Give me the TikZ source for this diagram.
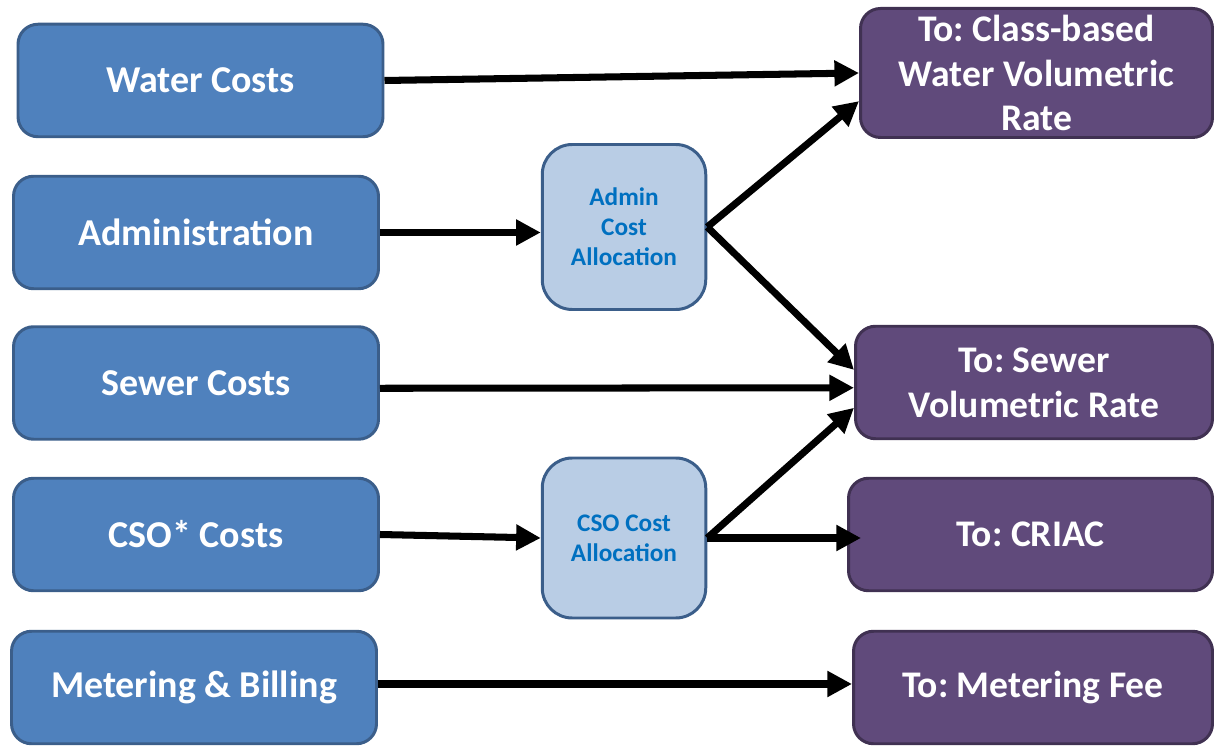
\documentclass[tikz,border=0pt]{standalone}
\usepackage{fontspec}
\setmainfont{Carlito}
\usetikzlibrary{arrows.meta}
\frenchspacing

\definecolor{costfill}{HTML}{4F81BD}
\definecolor{costline}{HTML}{3B5E8A}
\definecolor{allocfill}{HTML}{B9CDE5}
\definecolor{alloctext}{HTML}{0070C0}
\definecolor{ratefill}{HTML}{604A7B}
\definecolor{rateline}{HTML}{403152}

\begin{document}
\begin{tikzpicture}[
  cost/.style={draw=costline,fill=costfill,line width=1.7pt,rounded corners=0.4cm,
    minimum width=7.3cm,minimum height=2.25cm,text=white,align=center,
    font=\bfseries\fontsize{21.6}{25}\selectfont},
  alloc/.style={draw=costline,fill=allocfill,line width=1.7pt,rounded corners=0.6cm,
    minimum width=3.27cm,text=alloctext,align=center,
    font=\bfseries\fontsize{14.4}{17}\selectfont},
  rate/.style={draw=rateline,fill=ratefill,line width=1.7pt,rounded corners=0.4cm,
    minimum height=2.25cm,text=white,align=center,
    font=\bfseries\fontsize{21.4}{25.5}\selectfont},
  flow/.style={-{Triangle[length=14pt,width=14pt]},line width=4pt}
]
  \useasboundingbox (0,0) rectangle (24.28,14.92);

  \node (water) at (4.01,13.31) [cost]{Water Costs};
  \node (admin) at (3.92,10.27) [cost]{Administration};
  \node (sewer) at (3.92,7.26) [cost]{Sewer Costs};
  \node (cso) at (3.92,4.23) [cost]{CSO* Costs};
  \node (meter) at (3.88,1.17) [cost]{Metering \& Billing};

  \node (adminalloc) at (12.48,10.38) [alloc,minimum height=3.3cm]{Admin\\Cost\\Allocation};
  \node (csoalloc) at (12.48,4.16) [alloc,minimum height=3.2cm]{CSO Cost\\Allocation};

  \node (classrate) at (20.73,13.46) [rate,minimum width=7.04cm,minimum height=2.58cm]{To: Class-based\\Water Volumetric\\Rate};
  \node (sewerrate) at (20.68,7.27) [rate,minimum width=7.14cm]{To: Sewer\\Volumetric Rate};
  \node (criac) at (20.61,4.23) [rate,minimum width=7.28cm]{To: CRIAC};
  \node (meterfee) at (20.66,1.17) [rate,minimum width=7.18cm]{To: Metering Fee};

  \draw[flow] (water.east) -- (classrate.west);
  \draw[flow] (admin.east) -- (admin.east -| adminalloc.west);
  \draw[flow] (adminalloc.east) -- (classrate.189);
  \draw[flow] (adminalloc.east) -- (sewerrate.176);
  \draw[flow] ([yshift=-3pt]sewer.east) -- ([yshift=-3pt]sewerrate.west);
  \draw[flow] (cso.east) -- (csoalloc.west);
  \draw[flow] (csoalloc.east) -- (sewerrate.188);
  \draw[flow,shorten >=-0.28cm] (csoalloc.east) -- (csoalloc.east -| criac.west);
  \draw[flow] ([yshift=2pt]meter.east) -- ([yshift=2pt]meterfee.west);

\end{tikzpicture}
\end{document}
